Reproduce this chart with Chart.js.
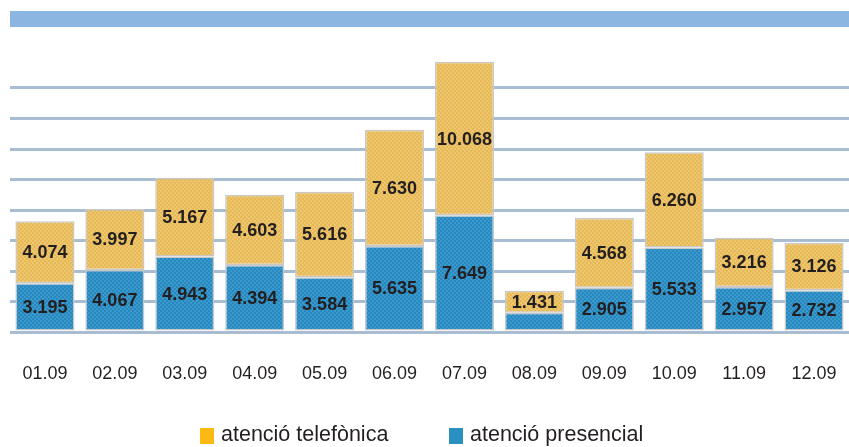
<!DOCTYPE html>
<html>
<head>
<meta charset="utf-8">
<script src="https://cdn.jsdelivr.net/npm/chart.js@4/dist/chart.umd.min.js"></script>
<style>
  html, body { margin: 0; padding: 0; background: #fff; }
  #wrap { position: relative; width: 849px; height: 447px; overflow: hidden; }
  #band { position: absolute; left: 10px; top: 11px; width: 839px; height: 16px; background: #8cb6e2; }
  #chart { position: absolute; left: 0; top: 0; }
  #legend { position: absolute; left: 200px; top: 426px; height: 20px; font-family: "Liberation Sans", Arial, sans-serif; font-size: 21.5px; color: #231f20; }
  .item { position: absolute; top: 0; white-space: nowrap; }
  .sw { position: absolute; top: 2px; width: 14px; height: 16px; }
  .txt { position: absolute; left: 21px; top: -4px; }
</style>
</head>
<body>
<div id="wrap">
  <div id="band"></div>
  <canvas id="chart" width="849" height="447"></canvas>
  <div id="legend"></div>
</div>
<script>
const labels = ['01.09', '02.09', '03.09', '04.09', '05.09', '06.09', '07.09', '08.09', '09.09', '10.09', '11.09', '12.09'];
const presencial = [3195, 4067, 4943, 4394, 3584, 5635, 7649, 1270, 2905, 5533, 2957, 2732];
const telefonica = [4074, 3997, 5167, 4603, 5616, 7630, 10068, 1431, 4568, 6260, 3216, 3126];
// 08.09 presencial has no printed value in the source
const presencialUnlabeled = ['08.09'];

function makePattern(base, dot) {
  const c = document.createElement('canvas');
  c.width = 4; c.height = 4;
  const g = c.getContext('2d');
  g.fillStyle = base; g.fillRect(0, 0, 4, 4);
  g.fillStyle = dot; g.fillRect(0, 0, 2, 2); g.fillRect(2, 2, 2, 2);
  return g.createPattern(c, 'repeat');
}

const ctx = document.getElementById('chart').getContext('2d');
const yellowFill = makePattern('#e4cb72', '#efb454');
const blueFill = makePattern('#2787c0', '#3b9aca');

const fmt = v => String(v).replace(/\B(?=(\d{3})+(?!\d))/g, '.');

const valueLabels = {
  id: 'valueLabels',
  afterDatasetsDraw(chart) {
    const c = chart.ctx;
    c.save();
    c.font = "bold 18px 'Liberation Sans', Arial, sans-serif";
    c.fillStyle = '#231f20';
    c.textAlign = 'center';
    c.textBaseline = 'middle';
    chart.data.datasets.forEach((ds, i) => {
      chart.getDatasetMeta(i).data.forEach((bar, j) => {
        if (i === 0 && presencialUnlabeled.includes(labels[j])) return;
        const p = bar.getProps(['x', 'y', 'base'], true);
        c.fillText(fmt(ds.data[j]), p.x, (p.y + p.base) / 2 + 1);
      });
    });
    c.restore();
  }
};

const chart = new Chart(ctx, {
  type: 'bar',
  data: {
    labels: labels,
    datasets: [
      { label: 'atenció presencial', data: presencial, backgroundColor: blueFill, legendColor: '#2a90c2',
        borderColor: '#c8c8c8', borderWidth: 1.5, borderSkipped: false },
      { label: 'atenció telefònica', data: telefonica, backgroundColor: yellowFill, legendColor: '#fdb913',
        borderColor: '#c8c8c8', borderWidth: 1.5, borderSkipped: false }
    ]
  },
  options: {
    responsive: false,
    animation: false,
    layout: { padding: { left: 10, right: 0, top: 27, bottom: 0 } },
    plugins: { legend: { display: false }, tooltip: { enabled: false } },
    datasets: { bar: { barPercentage: 0.845, categoryPercentage: 1 } },
    scales: {
      x: {
        stacked: true,
        grid: { display: false, drawTicks: false },
        border: { display: false },
        ticks: {
          padding: 31,
          maxRotation: 0,
          color: '#231f20',
          font: { family: "'Liberation Sans', Arial, sans-serif", size: 18 }
        },
        afterFit: s => { s.height = 115; s.paddingLeft = 0; s.paddingRight = 0; }
      },
      y: {
        stacked: true,
        min: 0,
        max: 20000,
        border: { display: false },
        grid: {
          drawTicks: false,
          lineWidth: 3,
          color: c => (c.tick && c.tick.value <= 16000) ? '#a8bdd1' : 'rgba(0,0,0,0)'
        },
        ticks: { display: false, stepSize: 2000 },
        afterFit: s => { s.width = 0; }
      }
    }
  },
  plugins: [valueLabels]
});

// legend: telefònica first, as in the source
const leg = document.getElementById('legend');
const offsets = [0, 249];
chart.data.datasets.slice().reverse().forEach((ds, k) => {
  const it = document.createElement('div');
  it.className = 'item';
  it.style.left = offsets[k] + 'px';
  it.innerHTML = '<span class="sw" style="background:' + ds.legendColor + '"></span><span class="txt"></span>';
  it.querySelector('.txt').textContent = ds.label;
  leg.appendChild(it);
});
</script>
</body>
</html>
